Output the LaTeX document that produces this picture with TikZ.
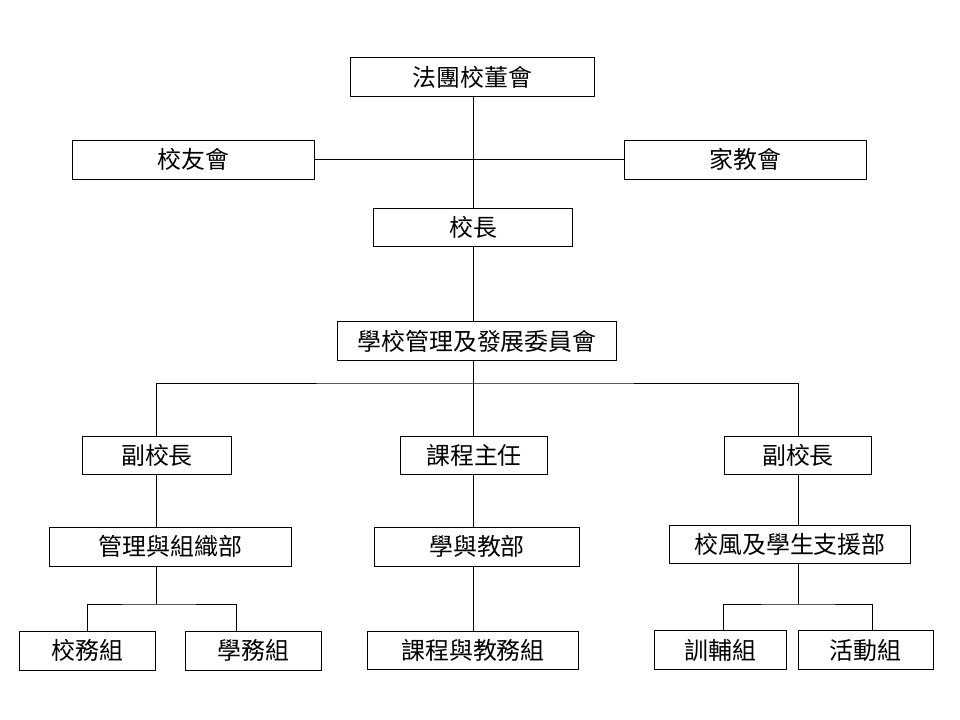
\documentclass[tikz,border=0pt]{standalone}
\usepackage{fontspec}
\newfontfamily\cjk{Noto Sans CJK TC}
\tikzset{
  unit/.style={draw, line width=0.7pt, inner sep=0pt, minimum height=0.97cm,
    font=\cjk\fontsize{17}{20}\selectfont},
  link/.style={line width=0.7pt}
}

\begin{document}
\begin{tikzpicture}[x=0.025cm,y=-0.025cm]
            \useasboundingbox (0,0) rectangle (960,720);
            \node[unit,minimum width=6.075cm] (board) at (472.5,77) {法團校董會};
            \node[unit,minimum width=6.05cm] (alumni) at (193.3,159.7) {校友會};
            \node[unit,minimum width=6.05cm] (pta) at (745.5,159.7) {家教會};
            \node[unit,minimum width=4.95cm] (principal) at (473,227.5) {校長};
            \node[unit,minimum width=6.975cm] (smdc) at (477,341) {學校管理及發展委員會};

            \node[unit,minimum width=3.7cm,minimum height=0.94cm] (vpA) at (157,455.5) {副校長};
            \node[unit,minimum width=3.675cm,minimum height=0.94cm] (curr) at (474,455.5) {課程主任};
            \node[unit,minimum width=3.675cm,minimum height=0.96cm] (vpB) at (798,455.5) {副校長};

            \node[unit,minimum width=6.05cm] (admin) at (170.5,546.8) {管理與組織部};
            \node[unit,minimum width=5.1cm] (acad) at (477,546.8) {學與教部};
            \node[unit,minimum width=6.03cm,minimum height=0.94cm] (disc) at (790,544.5) {校風及學生支援部};

            \node[unit,minimum width=3.4cm] (lt) at (87.2,650.7) {校務組};
            \node[unit,minimum width=3.4cm] (gen) at (253.3,650.7) {學務組};
            \node[unit,minimum width=5.25cm] (curaff) at (473,650.5) {課程與教務組};
            \node[unit,minimum width=3.28cm] (guid) at (720.5,650.3) {訓輔組};
            \node[unit,minimum width=3.38cm] (act) at (865.8,650.3) {活動組};

            \coordinate (spine) at (473,0);
            \coordinate (fork) at (473,383);
            \coordinate (splitA) at (156,604);
            \coordinate (legA) at (236,631);
            \coordinate (splitB) at (798.5,604);
            \coordinate (legB1) at (723.5,631);
            \coordinate (legB2) at (872.3,631);

            \draw[link] (alumni) -- (pta);
            \draw[link] (board.south -| spine) -- (principal.north -| spine);
            \draw[link] (principal.south -| spine) -- (smdc.north -| spine);
            \draw[link] (smdc.south -| spine) -- (curr.north -| spine);
            \draw[link] (curr.south -| spine) -- (acad.north -| spine);
            \draw[link] (acad.south -| spine) -- (curaff.north -| spine);

            \draw[link] (vpA.north -| splitA) |- (fork) -| (vpB.north -| splitB);
            \draw[link] (vpA.south -| splitA) -- (admin.north -| splitA);
            \draw[link] (vpB.south -| splitB) -- (disc.north -| splitB);

            \draw[link] (admin.south -| splitA) -- (splitA);
            \draw[link] (lt.north) |- (splitA) -| (legA);
            \draw[link] (disc.south -| splitB) -- (splitB);
            \draw[link] (legB1) |- (splitB) -| (legB2);
        \end{tikzpicture}
\end{document}
